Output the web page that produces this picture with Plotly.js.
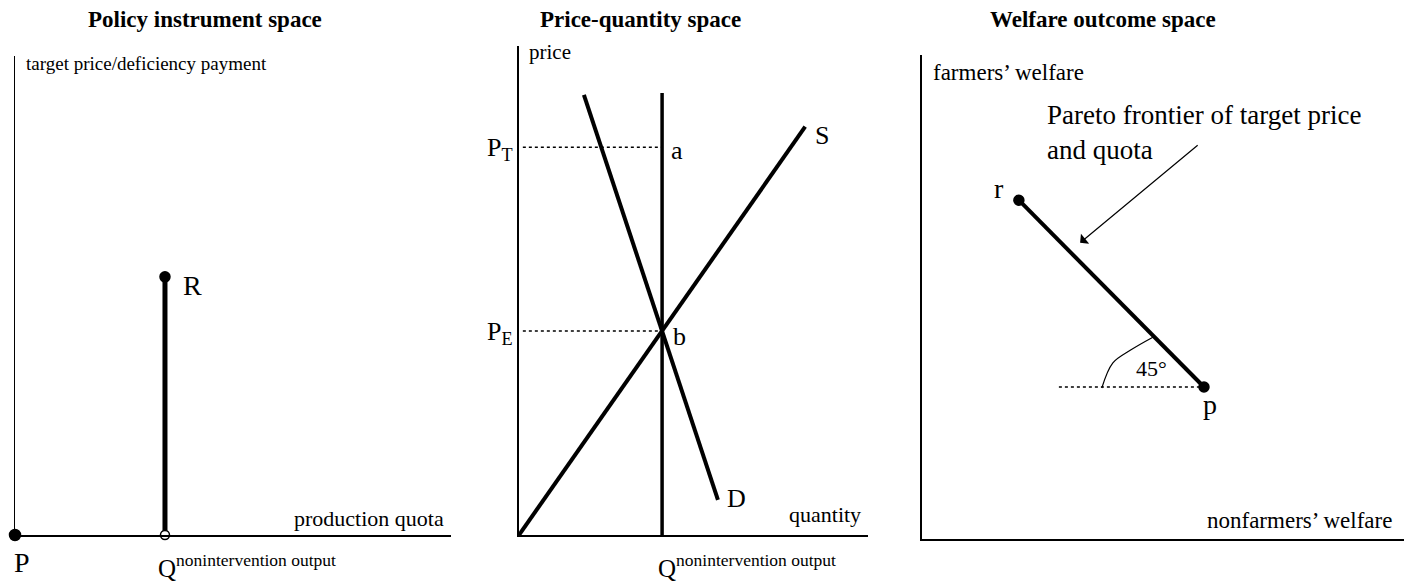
<!DOCTYPE html>
<html>
<head>
<meta charset="utf-8">
<script src="https://cdn.plot.ly/plotly-3.0.1.min.js"></script>
<style>
html, body { margin: 0; padding: 0; background: #fff; }
#chart { width: 1404px; height: 586px; }
</style>
</head>
<body>
<div id="chart"></div>
<script>
// Policy instrument space
const quotaLineX = [3.44, 3.44];
const quotaLineY = [0, 5.39];
const pointRX = [3.44];
const pointRY = [5.39];
const pointPX = [0];
const pointPY = [0];

// Price-quantity space
const supplyX = [0, 8.2];
const supplyY = [0, 8.35];
const demandX = [1.86, 5.70];
const demandY = [9.0, 0.72];
const noInterventionX = [4.1, 4.1];
const noInterventionY = [0, 9.04];
const priceGuideX = [0.11, 4.1];
const targetPrice = [7.93, 7.93];
const equilibriumPrice = [4.17, 4.17];

// Welfare outcome space
const frontierX = [2.01, 5.85];
const frontierY = [7.0, 3.14];
const horizontalX = [2.84, 5.85];
const horizontalY = [3.14, 3.14];
const angleArcX = [3.73, 3.96, 4.32, 4.79];
const angleArcY = [3.12, 3.64, 3.90, 4.17];
const arrowFrom = [5.75, 8.16];
const arrowTo = [3.28, 6.12];

const W = 1404, H = 586;
const px = x => x / W;
const py = y => 1 - y / H;
const serif = 'Liberation Serif, Times New Roman, serif';

function line(x, y, axes, width, dash) {
    return {
        x: x, y: y, xaxis: axes[0], yaxis: axes[1],
        type: 'scatter', mode: 'lines', cliponaxis: false,
        line: { color: '#000', width: width, dash: dash || 'solid' },
        hoverinfo: 'skip'
    };
}

function dots(x, y, axes, fill, size) {
    return {
        x: x, y: y, xaxis: axes[0], yaxis: axes[1],
        type: 'scatter', mode: 'markers', cliponaxis: false,
        marker: { color: fill, size: size, line: { color: '#000', width: 1.5 } },
        hoverinfo: 'skip'
    };
}

const p1 = ['x', 'y'], p2 = ['x2', 'y2'], p3 = ['x3', 'y3'];

const data = [
    line(quotaLineX, quotaLineY, p1, 5),
    dots(pointRX, pointRY, p1, '#000', 10),
    dots(pointPX, pointPY, p1, '#000', 11),
    dots([quotaLineX[0]], [0], p1, '#fff', 9),

    line(priceGuideX, targetPrice, p2, 1.5, 'dot'),
    line(priceGuideX, equilibriumPrice, p2, 1.5, 'dot'),
    line(noInterventionX, noInterventionY, p2, 3.5),
    line(demandX, demandY, p2, 4),
    line(supplyX, supplyY, p2, 4),

    line(horizontalX, horizontalY, p3, 1.5, 'dot'),
    Object.assign(line(angleArcX, angleArcY, p3, 1.2), { line: { color: '#000', width: 1.2, shape: 'spline' } }),
    line(frontierX, frontierY, p3, 4),
    dots([frontierX[0], frontierX[1]], [frontierY[0], frontierY[1]], p3, '#000', 10)
];

function axis(domain, anchor) {
    return {
        domain: domain, anchor: anchor, range: [0, 10],
        showline: true, linecolor: '#000', linewidth: 2,
        showgrid: false, zeroline: false, showticklabels: false, ticks: '',
        fixedrange: true
    };
}

function label(text, x, y, size, xanchor, yanchor, bold) {
    return {
        text: bold ? '<b>' + text + '</b>' : text,
        xref: 'paper', yref: 'paper', x: px(x), y: py(y),
        xanchor: xanchor || 'center', yanchor: yanchor || 'middle',
        align: xanchor || 'center',
        showarrow: false,
        font: { family: serif, size: size, color: '#000' }
    };
}

const annotations = [
    label('Policy instrument space', 205, 19, 23, 'center', 'middle', true),
    label('target price/deficiency payment', 24, 63, 19, 'left'),
    label('R', 181, 285, 28, 'left'),
    label('P', 22, 562, 28, 'center'),
    label('Q<sup>nonintervention output</sup>', 156, 566, 25, 'left'),
    label('production quota', 446, 518, 22, 'right'),

    label('Price-quantity space', 640, 19, 23, 'center', 'middle', true),
    label('price', 527, 52, 21, 'left'),
    label('P<sub>T</sub>', 515, 149, 26, 'right'),
    label('P<sub>E</sub>', 515, 333, 26, 'right'),
    label('a', 669, 151, 26, 'left'),
    label('b', 671, 336, 26, 'left'),
    label('S', 813, 135, 26, 'left'),
    label('D', 725, 498, 26, 'left'),
    label('quantity', 863, 514, 22, 'right'),
    label('Q<sup>nonintervention output</sup>', 656, 566, 25, 'left'),

    label('Welfare outcome space', 1103, 19, 23, 'center', 'middle', true),
    label('farmers\u2019 welfare', 931, 73, 23, 'left'),
    label('Pareto frontier of target price<br>and quota', 1045, 132, 27, 'left'),
    label('r', 999, 188, 28, 'center'),
    label('p', 1210, 404, 28, 'center'),
    label('45\u00b0', 1151, 368, 22, 'center'),
    label('nonfarmers\u2019 welfare', 1394, 520, 23, 'right'),
    {
        text: '', xref: 'x3', yref: 'y3', axref: 'x3', ayref: 'y3',
        x: arrowTo[0], y: arrowTo[1], ax: arrowFrom[0], ay: arrowFrom[1],
        showarrow: true, arrowhead: 1, arrowsize: 1.8, arrowwidth: 1.2, arrowcolor: '#000'
    }
];

const layout = {
    width: W, height: H,
    margin: { l: 0, r: 0, t: 0, b: 0 },
    paper_bgcolor: '#fff', plot_bgcolor: '#fff',
    showlegend: false, hovermode: false,
    xaxis: axis([px(15), px(451)], 'y'),
    yaxis: Object.assign(axis([py(535), py(56)], 'x'), { linewidth: 1.5 }),
    xaxis2: axis([px(519), px(868)], 'y2'),
    yaxis2: axis([py(535), py(46)], 'x2'),
    xaxis3: axis([px(922), 1], 'y3'),
    yaxis3: axis([py(539), py(55)], 'x3'),
    annotations: annotations
};

Plotly.newPlot('chart', data, layout, { displayModeBar: false, staticPlot: true });
</script>
</body>
</html>
